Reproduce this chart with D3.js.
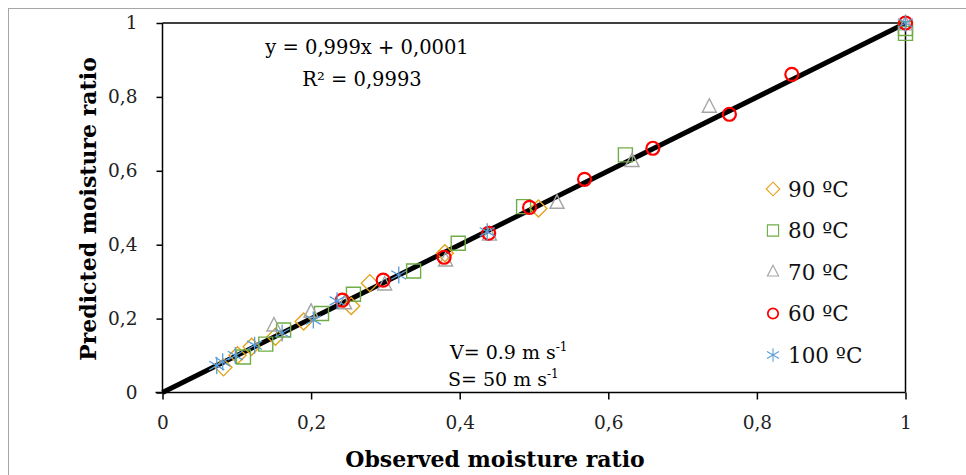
<!DOCTYPE html>
<html>
<head>
<meta charset="utf-8">
<script src="https://cdn.jsdelivr.net/npm/d3@7"></script>
<style>
  body { margin: 0; background: #fff; }
  text { font-family: "DejaVu Serif", "Liberation Serif", serif; }
</style>
</head>
<body>
<script>
// observed / predicted moisture ratio for each drying temperature
const t90obs = [0.082, 0.101, 0.120, 0.152, 0.190, 0.254, 0.279, 0.380, 0.506];
const t90pre = [0.068, 0.101, 0.124, 0.151, 0.192, 0.234, 0.296, 0.377, 0.498];
const t80obs = [0.109, 0.139, 0.163, 0.214, 0.257, 0.338, 0.398, 0.486, 0.623, 1.0, 1.0];
const t80pre = [0.096, 0.131, 0.169, 0.214, 0.266, 0.329, 0.404, 0.503, 0.643, 0.985, 0.972];
const t70obs = [0.150, 0.200, 0.245, 0.299, 0.381, 0.440, 0.531, 0.632, 0.736, 1.0];
const t70pre = [0.180, 0.217, 0.240, 0.291, 0.356, 0.426, 0.512, 0.625, 0.772, 0.995];
const t60obs = [0.242, 0.297, 0.379, 0.439, 0.494, 0.568, 0.660, 0.763, 0.847, 1.0];
const t60pre = [0.250, 0.304, 0.366, 0.431, 0.501, 0.577, 0.661, 0.753, 0.861, 1.0];
const t100obs = [0.073, 0.081, 0.098, 0.124, 0.161, 0.203, 0.235, 0.318, 0.437, 1.0];
const t100pre = [0.073, 0.083, 0.100, 0.128, 0.161, 0.196, 0.248, 0.318, 0.435, 1.0];

const seriesNames = ["90 ºC", "80 ºC", "70 ºC", "60 ºC", "100 ºC"];
const tickValues = [0, 0.2, 0.4, 0.6, 0.8, 1];
const fitSlope = 0.999, fitIntercept = 0.0001;

const series = [
    {name: seriesNames[0], xs: t90obs, ys: t90pre, shape: "diamond", color: "#E3A21A"},
    {name: seriesNames[1], xs: t80obs, ys: t80pre, shape: "square", color: "#70AD47"},
    {name: seriesNames[2], xs: t70obs, ys: t70pre, shape: "triangle", color: "#A5A5A5"},
    {name: seriesNames[3], xs: t60obs, ys: t60pre, shape: "circle", color: "#FF0000"},
    {name: seriesNames[4], xs: t100obs, ys: t100pre, shape: "star", color: "#5B9BD5"}
];

let margin = {top: 23, left: 162.5},
    width = 743,
    height = 369.5;

let svg = d3.select("body").append("svg")
    .attr("width", 966)
    .attr("height", 475);

// outer frame
svg.append("rect")
    .attr("x", 8.5).attr("y", 8.5)
    .attr("width", 1000).attr("height", 1000)
    .style("fill", "none")
    .style("stroke", "#a6a6a6")
    .style("stroke-width", 1);

let g = svg.append("g")
    .attr("transform", "translate(" + margin.left + "," + margin.top + ")");

let x = d3.scaleLinear().domain([0, 1]).range([0, width]);
let y = d3.scaleLinear().domain([0, 1]).range([height, 0]);

let fmt = function (d) { return String(d).replace(".", ","); };

// top and right frame of the plot
g.append("path")
    .attr("d", "M0,0H" + width + "V" + height)
    .style("fill", "none")
    .style("stroke", "#000")
    .style("stroke-width", 1.5);

let xAxis = g.append("g")
    .attr("transform", "translate(0," + height + ")")
    .call(d3.axisBottom(x).tickValues(tickValues).tickFormat(fmt).tickSize(7).tickPadding(16).tickSizeOuter(0));

let yAxis = g.append("g")
    .call(d3.axisLeft(y).tickValues(tickValues).tickFormat(fmt).tickSize(6).tickPadding(19).tickSizeOuter(0));

[xAxis, yAxis].forEach(function (a) {
    a.selectAll("path, line").style("stroke", "#000").style("stroke-width", 1.5);
    a.selectAll("text").style("font-family", "'DejaVu Serif', serif").style("font-size", "18.5px").style("fill", "#222");
});
xAxis.select(".domain").attr("d", "M-7,0H" + width);
yAxis.select(".domain").attr("d", "M0,0V" + (height));

// fit line
g.append("line")
    .attr("x1", x(0)).attr("y1", y(fitIntercept))
    .attr("x2", x(1)).attr("y2", y(fitSlope + fitIntercept))
    .style("stroke", "#000")
    .style("stroke-width", 5);

function drawMarker(sel, shape, color) {
    if (shape === "diamond") {
        sel.append("path").attr("d", "M0,-8.5L8.5,0L0,8.5L-8.5,0Z")
            .style("fill", "none").style("stroke", color).style("stroke-width", 1.4);
    } else if (shape === "square") {
        sel.append("path").attr("d", "M-7,-7H7V7H-7Z")
            .style("fill", "none").style("stroke", color).style("stroke-width", 1.4);
    } else if (shape === "triangle") {
        sel.append("path").attr("d", "M0,-8.5L7,5H-7Z")
            .style("fill", "none").style("stroke", color).style("stroke-width", 1.4);
    } else if (shape === "circle") {
        sel.append("circle").attr("r", 6.5)
            .style("fill", "none").style("stroke", color).style("stroke-width", 2.2);
    } else {
        sel.append("path").attr("d", "M0,-8.5V8.5M-7.5,-4.3L7.5,4.3M-7.5,4.3L7.5,-4.3")
            .style("fill", "none").style("stroke", color).style("stroke-width", 1.3);
    }
}

series.forEach(function (s) {
    let pts = s.xs.map(function (v, i) { return [v, s.ys[i]]; });
    g.selectAll(".m-" + s.shape)
        .data(pts)
        .enter().append("g")
        .attr("class", "m-" + s.shape)
        .attr("transform", function (d) {
            return "translate(" + x(d[0]) + "," + y(d[1]) + ")";
        })
        .each(function () { drawMarker(d3.select(this), s.shape, s.color); });
});

// legend
let legend = svg.selectAll(".legend")
    .data(series)
    .enter().append("g")
    .attr("class", "legend")
    .attr("transform", function (d, i) {
        return "translate(773," + (189 + i * 41.5) + ")";
    });

legend.each(function (d) {
    let m = d3.select(this).append("g").attr("transform", "scale(0.8)");
    drawMarker(m, d.shape, d.color);
});

legend.append("text")
    .attr("x", 15)
    .attr("dy", ".36em")
    .style("font-size", "21.5px")
    .style("fill", "#111")
    .text(function (d) { return d.name; });

// equation
svg.append("text")
    .attr("x", 367).attr("y", 54)
    .style("text-anchor", "middle")
    .style("font-size", "19.5px")
    .text("y = 0,999x + 0,0001");

let r2 = svg.append("text")
    .attr("x", 362).attr("y", 86)
    .style("text-anchor", "middle")
    .style("font-size", "19.5px");
r2.append("tspan").text("R² = 0,9993");

// conditions
let v = svg.append("text").attr("x", 450).attr("y", 359).style("font-size", "19px");
v.append("tspan").text("V= 0.9 m s");
v.append("tspan").attr("dy", -8).style("font-size", "12px").text("-1");

let sTxt = svg.append("text").attr("x", 448).attr("y", 386).style("font-size", "19px");
sTxt.append("tspan").text("S= 50 m s");
sTxt.append("tspan").attr("dy", -8).style("font-size", "12px").text("-1");

// axis titles
svg.append("text")
    .attr("x", 495).attr("y", 467)
    .style("text-anchor", "middle")
    .style("font-size", "22px")
    .style("font-weight", "bold")
    .text("Observed moisture ratio");

svg.append("text")
    .attr("transform", "translate(96,209) rotate(-90)")
    .style("text-anchor", "middle")
    .style("font-size", "22px")
    .style("font-weight", "bold")
    .text("Predicted moisture ratio");
</script>
</body>
</html>
